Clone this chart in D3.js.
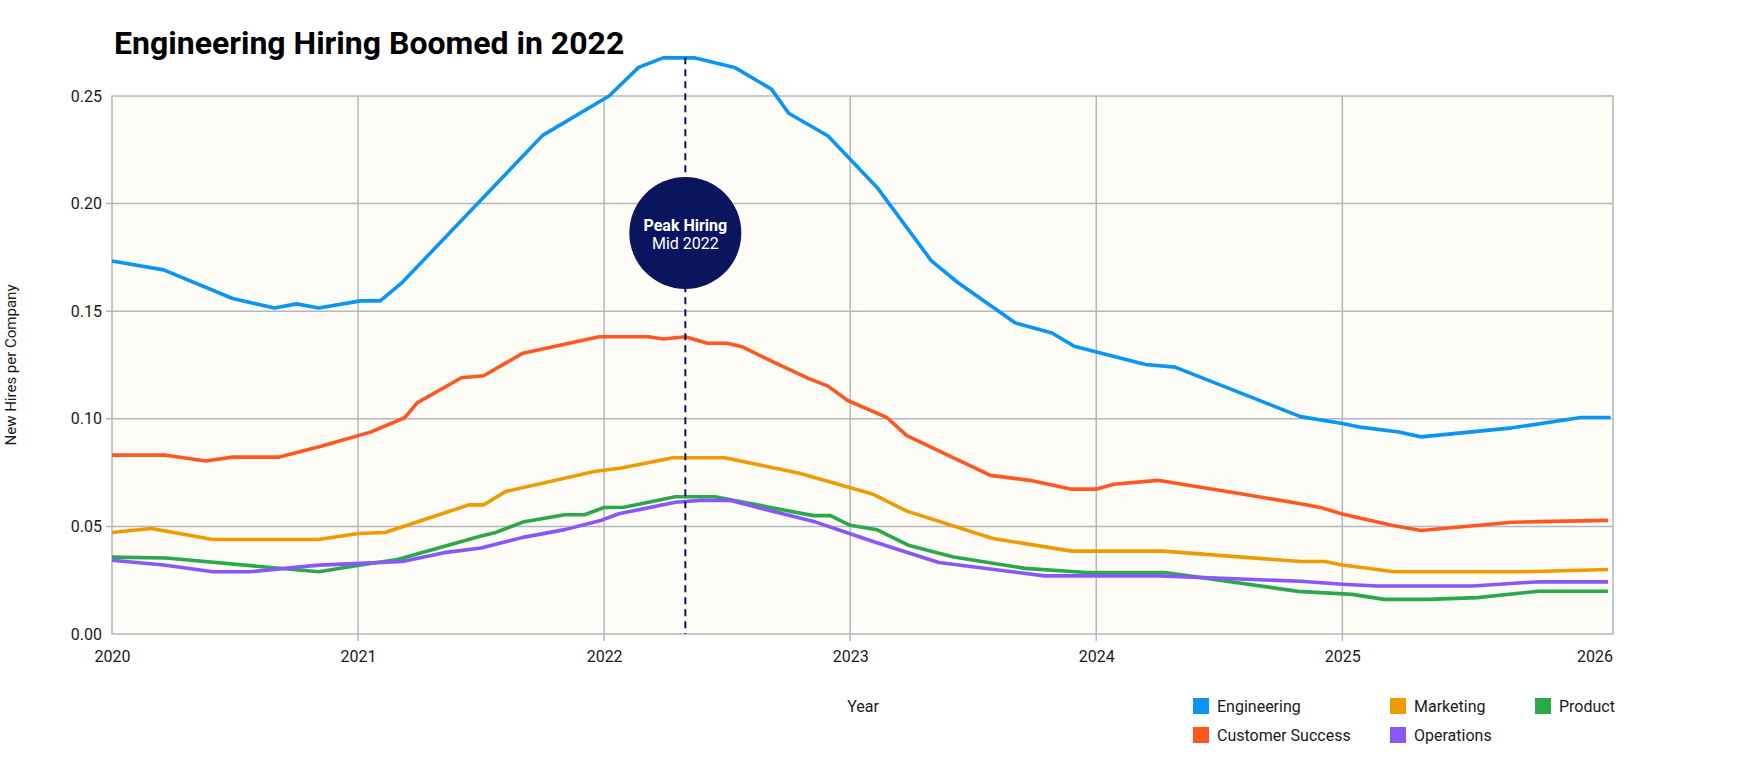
<!DOCTYPE html>
<html>
<head>
<meta charset="utf-8">
<script src="https://cdn.jsdelivr.net/npm/d3@7"></script>
<style>
  body { margin: 0; background: #fff; }
  text { font-family: Roboto, "Noto Sans", sans-serif; fill: #1a1a1a; }
</style>
</head>
<body>
<div id="chart"></div>
<script>
// readings per series: [decimal year, new hires per company]
var engineering = [[2020.00, .1733], [2020.21, .1692], [2020.49, .1559], [2020.66, .1515], [2020.75, .1534], [2020.84, .1515],
  [2021.01, .1548], [2021.09, .1548], [2021.18, .1634], [2021.75, .2317], [2022.02, .2500], [2022.14, .2633], [2022.24, .2677],
  [2022.37, .2677], [2022.53, .2633], [2022.68, .2532], [2022.75, .2420], [2022.91, .2314], [2023.11, .2074], [2023.33, .1734],
  [2023.44, .1631], [2023.67, .1446], [2023.82, .1399], [2023.91, .1337], [2024.20, .1252], [2024.32, .1240], [2024.83, .1010],
  [2025.00, .0978], [2025.08, .0960], [2025.23, .0939], [2025.32, .0916], [2025.69, .0958], [2025.97, .1006], [2026.09, .1006]];

var customerSuccess = [[2020.00, .0831], [2020.22, .0831], [2020.38, .0804], [2020.49, .0822], [2020.68, .0822], [2020.85, .0872],
  [2021.05, .0938], [2021.19, .1005], [2021.24, .1074], [2021.42, .1191], [2021.51, .1200], [2021.67, .1305], [2021.98, .1381],
  [2022.18, .1381], [2022.24, .1371], [2022.33, .1381], [2022.42, .1351], [2022.50, .1351], [2022.56, .1335], [2022.68, .1268],
  [2022.83, .1188], [2022.91, .1152], [2022.99, .1085], [2023.15, .1005], [2023.23, .0922], [2023.57, .0737], [2023.73, .0714],
  [2023.90, .0673], [2024.00, .0673], [2024.07, .0696], [2024.25, .0714], [2024.58, .0653], [2024.83, .0605], [2024.92, .0585],
  [2025.00, .0558], [2025.20, .0505], [2025.32, .0481], [2025.69, .0519], [2025.80, .0522], [2026.08, .0528]];

var marketing = [[2020.00, .0472], [2020.16, .0490], [2020.41, .0439], [2020.84, .0439], [2021.00, .0467], [2021.11, .0472],
  [2021.45, .0600], [2021.51, .0600], [2021.60, .0662], [2021.96, .0755], [2022.07, .0771], [2022.28, .0819], [2022.49, .0819],
  [2022.79, .0748], [2023.09, .0651], [2023.23, .0571], [2023.58, .0444], [2023.90, .0385], [2024.27, .0385], [2024.83, .0337],
  [2024.93, .0337], [2025.00, .0321], [2025.21, .0289], [2025.74, .0289], [2026.08, .0300]];

var product = [[2020.00, .0357], [2020.22, .0353], [2020.84, .0289], [2021.01, .0321], [2021.16, .0346], [2021.50, .0455],
  [2021.56, .0472], [2021.67, .0520], [2021.84, .0554], [2021.92, .0554], [2022.00, .0588], [2022.08, .0589], [2022.29, .0638],
  [2022.45, .0638], [2022.85, .0550], [2022.92, .0550], [2023.00, .0505], [2023.11, .0484], [2023.24, .0411], [2023.42, .0358],
  [2023.71, .0305], [2023.96, .0286], [2024.28, .0286], [2024.82, .0198], [2025.04, .0184], [2025.17, .0161], [2025.35, .0161],
  [2025.55, .0169], [2025.80, .0199], [2026.08, .0199]];

var operations = [[2020.00, .0343], [2020.21, .0321], [2020.41, .0289], [2020.56, .0289], [2020.84, .0320], [2021.01, .0328],
  [2021.18, .0337], [2021.35, .0378], [2021.50, .0400], [2021.67, .0449], [2021.84, .0485], [2021.99, .0529], [2022.06, .0559],
  [2022.29, .0612], [2022.39, .0621], [2022.51, .0621], [2022.86, .0520], [2023.00, .0466], [2023.09, .0431], [2023.36, .0332],
  [2023.79, .0270], [2024.26, .0270], [2024.83, .0245], [2025.00, .0231], [2025.14, .0223], [2025.53, .0223], [2025.80, .0243],
  [2026.08, .0242]];

var seriesNames = ["Engineering", "Customer Success", "Marketing", "Product", "Operations"];
var seriesColors = ["#0A95F4", "#FF5722", "#EE9B00", "#2BA84A", "#8A55FA"];
var yearTicks = [2020, 2021, 2022, 2023, 2024, 2025, 2026];
var valueTicks = [0, 0.05, 0.10, 0.15, 0.20, 0.25];
var peakYear = 2022.33;

var svgWidth = 1740;
var svgHeight = 780;
var margin = { top: 96, right: 127, bottom: 146, left: 112 };
var width = svgWidth - margin.left - margin.right;
var height = svgHeight - margin.top - margin.bottom;

var svg = d3.select("#chart")
  .append("svg")
  .attr("width", svgWidth)
  .attr("height", svgHeight);

svg.append("text")
  .attr("x", 114)
  .attr("y", 54)
  .attr("font-size", 32)
  .attr("font-weight", 700)
  .style("fill", "#000")
  .text("Engineering Hiring Boomed in 2022");

var chart = svg.append("g")
  .attr("transform", `translate(${margin.left}, ${margin.top})`);

var xScale = d3.scaleLinear().domain([2020, 2026.1]).range([0, width]);
var yScale = d3.scaleLinear().domain([0, 0.25]).range([height, 0]);

chart.append("rect")
  .attr("width", width)
  .attr("height", height)
  .attr("fill", "#FDFCF7")
  .attr("stroke", "#B3B6BE")
  .attr("stroke-width", 1.5);

// grid
chart.selectAll(".vgrid")
  .data(yearTicks.filter(d => d > 2020 && d < 2026))
  .enter()
  .append("line")
  .attr("x1", d => xScale(d))
  .attr("x2", d => xScale(d))
  .attr("y1", 0)
  .attr("y2", height + 7)
  .attr("stroke", "#B3B6BE")
  .attr("stroke-width", 1.5);

chart.selectAll(".hgrid")
  .data(valueTicks.filter(d => d > 0 && d < 0.25))
  .enter()
  .append("line")
  .attr("x1", -6)
  .attr("x2", width)
  .attr("y1", d => yScale(d))
  .attr("y2", d => yScale(d))
  .attr("stroke", "#B3B6BE")
  .attr("stroke-width", 1.5);

// axes (labels only, lines come from the grid)
var bottomAxis = d3.axisBottom(xScale).tickValues(yearTicks).tickFormat(d3.format("d")).tickSize(0).tickPadding(17);
var leftAxis = d3.axisLeft(yScale).tickValues(valueTicks).tickFormat(d3.format(".2f")).tickSize(0).tickPadding(10);

var xAxisG = chart.append("g")
  .attr("transform", `translate(0, ${height})`)
  .call(bottomAxis);
xAxisG.selectAll("text").attr("font-size", 16).style("fill", "#1a1a1a");
xAxisG.selectAll("text").filter(d => d === 2026).attr("dx", 6);

var yAxisG = chart.append("g").call(leftAxis);
yAxisG.selectAll("text").attr("font-size", 16).style("fill", "#1a1a1a");
chart.selectAll(".domain").remove();

var line = d3.line()
  .x(d => xScale(d[0]))
  .y(d => yScale(d[1]));

var allSeries = [engineering, customerSuccess, marketing, product, operations];

chart.selectAll(".series")
  .data(allSeries)
  .enter()
  .append("path")
  .attr("fill", "none")
  .attr("stroke", (d, i) => seriesColors[i])
  .attr("stroke-width", 3.6)
  .attr("stroke-linejoin", "round")
  .attr("d", line);

// peak annotation
chart.append("line")
  .attr("x1", xScale(peakYear))
  .attr("x2", xScale(peakYear))
  .attr("y1", yScale(0.268))
  .attr("y2", height)
  .attr("stroke", "#0B155E")
  .attr("stroke-width", 2)
  .attr("stroke-dasharray", "7,5");

chart.append("circle")
  .attr("cx", xScale(peakYear))
  .attr("cy", 137)
  .attr("r", 56)
  .attr("fill", "#0B155E");

chart.append("text")
  .attr("x", xScale(peakYear))
  .attr("y", 135)
  .attr("text-anchor", "middle")
  .attr("font-size", 16)
  .attr("font-weight", 700)
  .style("fill", "#fff")
  .text("Peak Hiring");

chart.append("text")
  .attr("x", xScale(peakYear))
  .attr("y", 153)
  .attr("text-anchor", "middle")
  .attr("font-size", 16)
  .style("fill", "#fff")
  .text("Mid 2022");

// axis titles
svg.append("text")
  .attr("transform", "rotate(-90)")
  .attr("x", -365)
  .attr("y", 16)
  .attr("text-anchor", "middle")
  .attr("font-size", 15)
  .text("New Hires per Company");

svg.append("text")
  .attr("x", 863)
  .attr("y", 712)
  .attr("text-anchor", "middle")
  .attr("font-size", 16)
  .text("Year");

// legend
var legendPos = [[1193, 698], [1193, 727], [1390, 698], [1535, 698], [1390, 727]];
var legend = svg.selectAll(".legend")
  .data(seriesNames)
  .enter()
  .append("g")
  .attr("transform", (d, i) => `translate(${legendPos[i][0]}, ${legendPos[i][1]})`);

legend.append("rect")
  .attr("width", 16)
  .attr("height", 16)
  .attr("fill", (d, i) => seriesColors[i]);

legend.append("text")
  .attr("x", 24)
  .attr("y", 13.5)
  .attr("font-size", 16)
  .text(d => d);
</script>
</body>
</html>
